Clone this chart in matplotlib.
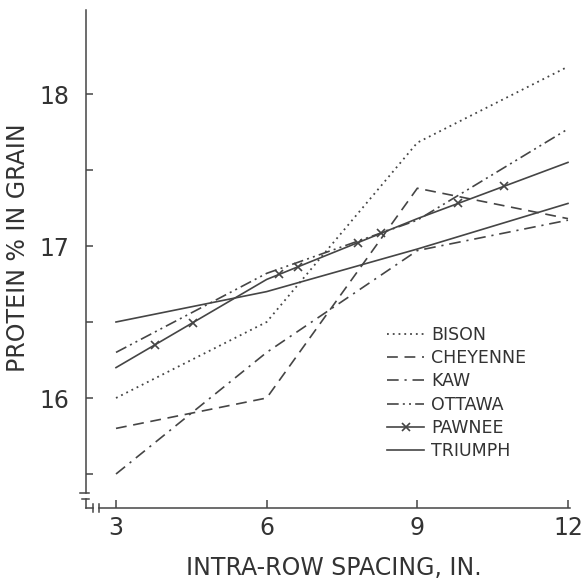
import numpy as np
import matplotlib
matplotlib.use("Agg")
import matplotlib.pyplot as plt
from matplotlib.lines import Line2D

# ---- data ----
spacing = [3, 6, 9, 12]
bison = [16.0, 16.5, 17.68, 18.18]
cheyenne = [15.8, 16.0, 17.38, 17.18]
kaw = [15.5, 16.3, 16.97, 17.17]
ottawa = [16.3, 16.82, 17.17, 17.77]
pawnee = [16.2, 16.78, 17.18, 17.55]
triumph = [16.5, 16.7, 16.98, 17.28]
pawnee_marker_x = [3.78, 4.53, 6.25, 6.63, 7.82, 8.28, 9.81, 10.73]
varieties = ["BISON", "CHEYENNE", "KAW", "OTTAWA", "PAWNEE", "TRIUMPH"]
x_ticks = [3, 6, 9, 12]
y_major = [16, 17, 18]
y_minor = [15.5, 16.5, 17.5]

ink = "#454545"
txt = "#333333"
plt.rcParams['font.family'] = ['DejaVu Sans']

fig = plt.figure(figsize=(5.85, 5.83), dpi=100)
ax = fig.add_axes([86/585, 75/583, 484/585, 498/583])

lw = 1.2
styles = {
    "BISON": dict(linestyle=(0, (1.0, 2.2)), lw=1.3),
    "CHEYENNE": dict(linestyle=(0, (6.5, 4.0)), lw=lw),
    "KAW": dict(linestyle=(0, (7, 3.5, 1.3, 3.5)), lw=lw),
    "OTTAWA": dict(linestyle=(0, (7, 2.5, 1.2, 2.5, 1.2, 2.5)), lw=lw),
    "PAWNEE": dict(linestyle="-", lw=lw),
    "TRIUMPH": dict(linestyle="-", lw=lw),
}
series = dict(zip(varieties, [bison, cheyenne, kaw, ottawa, pawnee, triumph]))

handles = []
for name in varieties:
    ax.plot(spacing, series[name], color=ink, **styles[name])
    if name == "PAWNEE":
        ax.plot(pawnee_marker_x, np.interp(pawnee_marker_x, spacing, pawnee),
                linestyle="none", marker="x", ms=6, mew=1.2, color=ink)
        handles.append(Line2D([], [], color=ink, marker="x", ms=6, mew=1.2, **styles[name]))
    else:
        handles.append(Line2D([], [], color=ink, **styles[name]))

ax.set_xlim(3 - 30/50.22, 3 + 454/50.22)
ax.set_ylim(17 - 262/152, 17 + 236/152)

for s in ["top", "right"]:
    ax.spines[s].set_visible(False)
ax.spines["left"].set_bounds(17 - 247/152, ax.get_ylim()[1])
ax.spines["bottom"].set_bounds(3 - 17/50.22, ax.get_xlim()[1])
for s in ["left", "bottom"]:
    ax.spines[s].set_color(ink)
    ax.spines[s].set_linewidth(1.1)

ax.set_xticks(x_ticks)
ax.set_xticklabels([str(v) for v in x_ticks])
ax.set_yticks(y_major)
ax.set_yticklabels([str(v) for v in y_major])
ax.set_yticks(y_minor, minor=True)
ax.tick_params(axis="x", direction="in", length=6, width=1.1, color=ink,
               labelsize=17, labelcolor=txt, pad=6)
ax.tick_params(axis="y", which="both", direction="in", length=5, width=1.1, color=ink,
               labelsize=17, labelcolor=txt, pad=12)

# axis break marks (decoration, axes fraction coordinates)
tr = ax.transAxes
kw = dict(transform=tr, color=ink, lw=1.1, clip_on=False)
ax.plot([-0.012, 0.006], [0.030, 0.030], **kw)
ax.plot([-0.008, 0.006], [0.018, 0.018], **kw)
ax.plot([0.0, 0.0], [0.018, 0.0], **kw)
ax.plot([0.0, 0.0145], [0.0, 0.0], **kw)
ax.plot([0.0145, 0.0145], [-0.008, 0.008], **kw)
ax.plot([0.0269, 0.0269], [-0.008, 0.008], **kw)

ax.set_xlabel("INTRA-ROW SPACING, IN.", fontsize=17, color=txt)
ax.xaxis.set_label_coords((334 - 86) / 484, -(556 - 508) / 498)
ax.set_ylabel("PROTEIN % IN GRAIN", fontsize=17, color=txt)
ax.yaxis.set_label_coords((30 - 86) / 484, (508 - 248) / 498)

leg = ax.legend(handles, varieties, loc="upper left",
                bbox_to_anchor=(387/585, 1 - 326/583), bbox_transform=fig.transFigure,
                frameon=False, fontsize=12.5, handlelength=2.15, handletextpad=0.4,
                labelspacing=0.3, numpoints=1, borderpad=0, borderaxespad=0)
for t in leg.get_texts():
    t.set_color(txt)

fig.savefig("out.png", dpi=100)
